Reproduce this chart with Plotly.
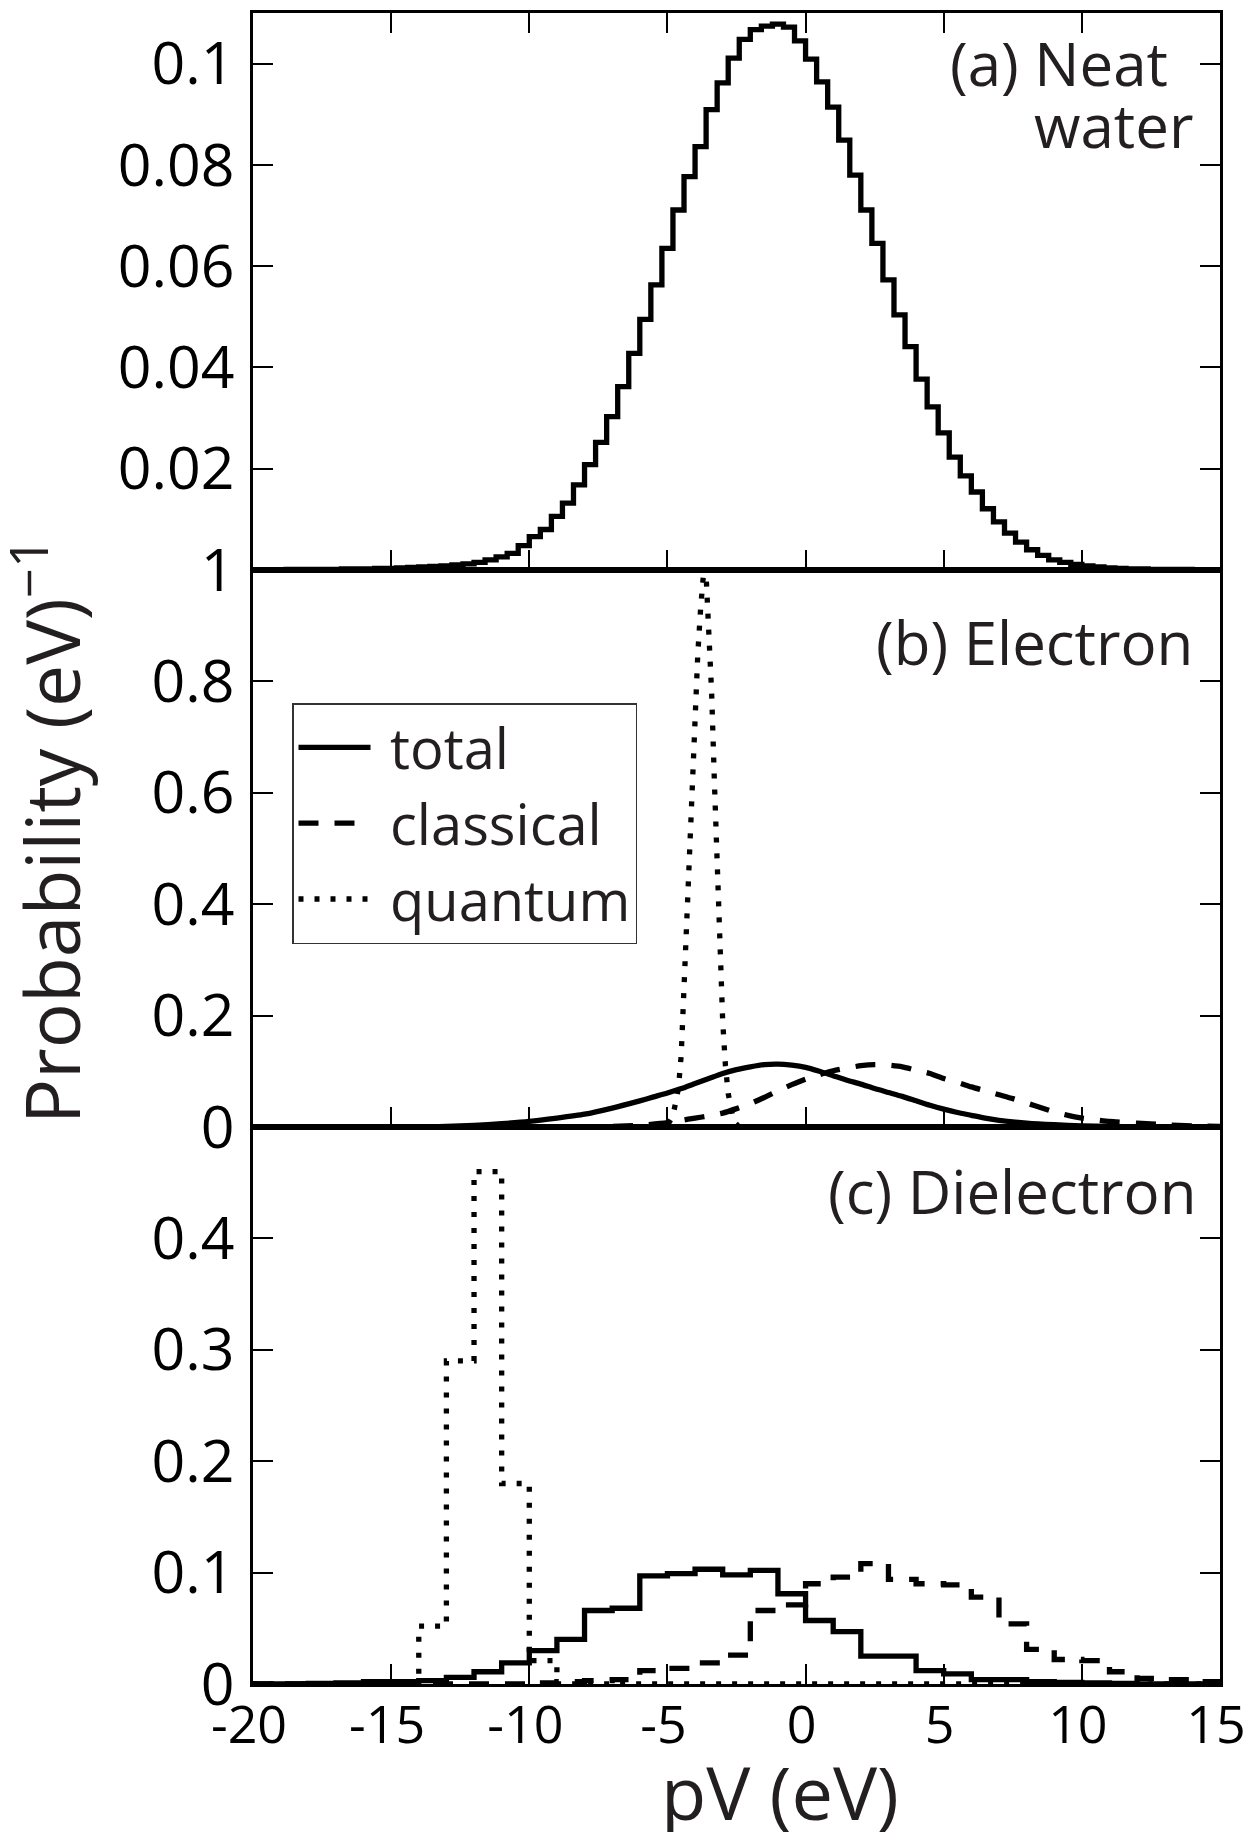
import numpy as np
import plotly.graph_objects as go

# ---------------- data ----------------
# Panel (a): neat water, histogram with 0.4 eV bins starting at -20 eV
bin_start_a = -20.0
bin_width_a = 0.4
neat_water = [
    0.0000, 0.0000, 0.0000, 0.0001, 0.0001, 0.0001, 0.0001, 0.0001, 0.0002, 0.0002,
    0.0002, 0.0003, 0.0003, 0.0004, 0.0005, 0.0006, 0.0007, 0.0008, 0.0010, 0.0012,
    0.0015, 0.0020, 0.0026, 0.0033, 0.0048, 0.0066, 0.0080, 0.0106, 0.0132, 0.0168,
    0.0208, 0.0252, 0.0303, 0.0362, 0.0428, 0.0495, 0.0563, 0.0635, 0.0711, 0.0777,
    0.0836, 0.0909, 0.0962, 0.1011, 0.1048, 0.1067, 0.1074, 0.1078, 0.1072, 0.1045,
    0.1009, 0.0964, 0.0914, 0.0849, 0.0780, 0.0711, 0.0645, 0.0573, 0.0504, 0.0441,
    0.0377, 0.0322, 0.0271, 0.0223, 0.0186, 0.0154, 0.0121, 0.0095, 0.0073, 0.0055,
    0.0040, 0.0029, 0.0020, 0.0015, 0.0011, 0.0008, 0.0006, 0.0004, 0.0003, 0.0002,
    0.0002, 0.0001, 0.0001, 0.0001, 0.0001, 0.0000, 0.0000, 0.0000,
]

# Panel (b): electron
pv_total_b = [-20, -14, -13, -12, -11, -10, -9, -8, -7, -6, -5.5, -5, -4.5, -4, -3.5, -3,
              -2.5, -2, -1.5, -1, -0.5, 0, 0.5, 1, 1.5, 2, 2.5, 3, 3.5, 4, 4.5, 5, 5.5,
              6, 6.5, 7, 8, 9, 10, 11, 12, 13, 15]
total_b = [0.0, 0.0, 0.001, 0.003, 0.006, 0.010, 0.016, 0.023, 0.034, 0.047, 0.054, 0.061,
           0.069, 0.078, 0.087, 0.096, 0.103, 0.108, 0.112, 0.113, 0.111, 0.107, 0.100,
           0.092, 0.084, 0.077, 0.069, 0.062, 0.055, 0.047, 0.039, 0.032, 0.026, 0.021,
           0.016, 0.012, 0.007, 0.004, 0.002, 0.001, 0.0005, 0.0, 0.0]

pv_classical_b = [-20, -8, -7, -6, -5, -4.5, -4, -3.5, -3, -2.5, -2, -1.5, -1, -0.5, 0, 0.5,
                  1, 1.5, 2, 2.5, 3, 3.5, 4, 4.5, 5, 5.5, 6, 6.5, 7, 7.5, 8, 8.5, 9, 9.5,
                  10, 10.5, 11, 12, 13, 14, 15]
classical_b = [0.0, 0.0, 0.001, 0.003, 0.008, 0.012, 0.016, 0.020, 0.025, 0.033, 0.042,
               0.053, 0.065, 0.076, 0.086, 0.094, 0.101, 0.106, 0.110, 0.112, 0.111, 0.108,
               0.102, 0.096, 0.087, 0.080, 0.072, 0.065, 0.058, 0.051, 0.043, 0.035, 0.027,
               0.021, 0.016, 0.013, 0.010, 0.007, 0.004, 0.002, 0.001]

pv_quantum_b = [-20, -5.2, -5.0, -4.8, -4.6, -4.5, -4.4, -4.3, -4.2, -4.1, -4.0, -3.9, -3.8,
                -3.7, -3.6, -3.5, -3.4, -3.3, -3.2, -3.1, -3.0, -2.9, -2.8, -2.6, -2.4, 15]
quantum_b = [0.0, 0.0, 0.003, 0.02, 0.07, 0.13, 0.25, 0.37, 0.51, 0.63, 0.75, 0.85, 0.93,
             0.99, 0.99, 0.90, 0.78, 0.62, 0.47, 0.33, 0.19, 0.11, 0.06, 0.01, 0.0, 0.0]

# Panel (c): dielectron, histogram with 1 eV bins starting at -20 eV
bin_start_c = -20.0
bin_width_c = 1.0
total_c = [0.0, 0.0, 0.0005, 0.001, 0.002, 0.002, 0.003, 0.006, 0.011, 0.019,
           0.030, 0.040, 0.066, 0.068, 0.097, 0.099, 0.103, 0.098, 0.102, 0.081,
           0.057, 0.047, 0.025, 0.025, 0.012, 0.009, 0.004, 0.004, 0.002, 0.0015,
           0.001, 0.0005, 0.0, 0.0, 0.0]
classical_c = [0.0, 0.0, 0.0, 0.0, 0.0, 0.0, 0.0, 0.0, 0.0, 0.0,
               0.001, 0.002, 0.003, 0.004, 0.012, 0.014, 0.019, 0.026, 0.066, 0.071,
               0.090, 0.096, 0.108, 0.094, 0.090, 0.089, 0.078, 0.054, 0.031, 0.022,
               0.021, 0.011, 0.005, 0.004, 0.002]
quantum_c = [0.0, 0.0, 0.0, 0.0, 0.0, 0.002, 0.052, 0.290, 0.460, 0.180,
             0.021, 0.0, 0.0, 0.0, 0.0, 0.0, 0.0, 0.0, 0.0, 0.0,
             0.0, 0.0, 0.0, 0.0, 0.0, 0.0, 0.0, 0.0, 0.0, 0.0,
             0.0, 0.0, 0.0, 0.0, 0.0]

x_ticks = [-20, -15, -10, -5, 0, 5, 10, 15]
y_ticks_a = [0.02, 0.04, 0.06, 0.08, 0.1]
y_ticks_b = [0, 0.2, 0.4, 0.6, 0.8, 1]
y_ticks_c = [0, 0.1, 0.2, 0.3, 0.4]


def fmt(v):
    return ("%g" % v)


def steps(start, width, vals):
    edges = start + width * np.arange(len(vals) + 1)
    return edges, list(vals) + [vals[-1]]


# ---------------- layout geometry ----------------
# the page body adds an 8 px margin on every side; target positions are in page pixels
OFF = 8
W, H = 1251 - OFF, 1840 - 2 * OFF
PLOT_L, PLOT_R, PLOT_T, PLOT_B = 253, 1220, 13, 1684
ML = PLOT_L - OFF
MT = PLOT_T - OFF
MR = W - (PLOT_R - OFF)
MB = H - (PLOT_B - OFF)
PW = PLOT_R - PLOT_L
PH = PLOT_B - PLOT_T


def px_x(px):
    return (px - PLOT_L) / PW


def px_y(py):
    return (PLOT_B - py) / PH


FONT = "Open Sans, Noto Sans, Liberation Sans, sans-serif"
TXT = "#231f20"
LW = 5.3
DASH = "20px,16px"
DOT = "5px,11px"

fig = go.Figure()

# panel (a)
xa, ya = steps(bin_start_a, bin_width_a, neat_water)
fig.add_trace(go.Scatter(x=xa, y=ya, mode="lines", line=dict(color="black", width=LW, shape="hv"),
                         xaxis="x3", yaxis="y3", showlegend=False))

# panel (b)
fig.add_trace(go.Scatter(x=pv_total_b, y=total_b, mode="lines", name=" total",
                         line=dict(color="black", width=LW, shape="spline", smoothing=0.6),
                         xaxis="x2", yaxis="y2"))
fig.add_trace(go.Scatter(x=pv_classical_b, y=classical_b, mode="lines", name=" classical",
                         line=dict(color="black", width=LW, dash=DASH, shape="spline", smoothing=0.6),
                         xaxis="x2", yaxis="y2"))
fig.add_trace(go.Scatter(x=pv_quantum_b, y=quantum_b, mode="lines", name=" quantum",
                         line=dict(color="black", width=LW, dash=DOT),
                         xaxis="x2", yaxis="y2"))

# panel (c)
for vals, dash in ((quantum_c, DOT), (classical_c, DASH), (total_c, "solid")):
    xc, yc = steps(bin_start_c, bin_width_c, vals)
    fig.add_trace(go.Scatter(x=xc, y=yc, mode="lines",
                             line=dict(color="black", width=LW, dash=dash, shape="hv"),
                             xaxis="x", yaxis="y", showlegend=False))

# empty trace so that the tick-only overlay axis of panel (c) is drawn
fig.add_trace(go.Scatter(x=[], y=[], mode="lines", xaxis="x4", yaxis="y",
                         showlegend=False, hoverinfo="skip"))

axis_common = dict(showline=True, linecolor="black", linewidth=2.5, ticks="inside",
                   ticklen=20, tickwidth=2, tickcolor="black", showgrid=False, zeroline=False,
                   automargin=False, ticklabeloverflow="allow")

xcommon = dict(axis_common, range=[-20, 15], tickvals=x_ticks, ticktext=[fmt(v) for v in x_ticks])
ycommon = dict(axis_common, ticklabelstandoff=4, tickfont=dict(family=FONT, size=59, color="black"))

fig.update_layout(
    width=W, height=H, autosize=False,
    margin=dict(l=ML, r=MR, t=MT, b=MB, autoexpand=False),
    paper_bgcolor="white", plot_bgcolor="white",
    # panel (c) bottom axis: line + labels (ticks drawn by the overlay axis x4)
    xaxis=dict(xcommon, anchor="y", domain=[0, 1], mirror=True, showticklabels=True,
               ticks="", ticklabelstandoff=-6, ticklabelshift=-4,
               tickfont=dict(family=FONT, size=52, color="black")),
    xaxis4=dict(xcommon, anchor="y", overlaying="x", matches="x", side="bottom",
                showline=False, showticklabels=False),
    xaxis2=dict(xcommon, anchor="y2", domain=[0, 1], mirror=True, showticklabels=False, matches="x"),
    xaxis3=dict(xcommon, anchor="y3", domain=[0, 1], mirror="ticks", showticklabels=False, matches="x"),
    yaxis=dict(ycommon, anchor="x", domain=[0, 1 / 3], range=[0, 0.5], mirror="ticks",
               tickvals=y_ticks_c, ticktext=[fmt(v) for v in y_ticks_c]),
    yaxis2=dict(ycommon, anchor="x2", domain=[1 / 3, 2 / 3], range=[0, 1], mirror="ticks",
                tickvals=y_ticks_b, ticktext=[fmt(v) for v in y_ticks_b]),
    yaxis3=dict(ycommon, anchor="x3", domain=[2 / 3, 1], range=[0, 0.11], mirror="ticks",
                tickvals=y_ticks_a, ticktext=[fmt(v) for v in y_ticks_a]),
    legend=dict(x=px_x(292), y=px_y(703), xanchor="left", yanchor="top",
                font=dict(family=FONT, size=56, color=TXT), bgcolor="white",
                bordercolor="#333333", borderwidth=1.5, itemwidth=72, tracegroupgap=0),
    showlegend=True,
)

ann_font = dict(family=FONT, size=60, color=TXT)
annotations = [
    dict(text="(a) Neat", x=px_x(1170), y=px_y(63), xanchor="right", yanchor="middle"),
    dict(text="water", x=px_x(1195), y=px_y(125), xanchor="right", yanchor="middle"),
    dict(text="(b) Electron", x=px_x(1195), y=px_y(642), xanchor="right", yanchor="middle"),
    dict(text="(c) Dielectron", x=px_x(1198), y=px_y(1191), xanchor="right", yanchor="middle"),
]
for a in annotations:
    fig.add_annotation(xref="paper", yref="paper", showarrow=False, font=ann_font, **a)

fig.add_annotation(xref="paper", yref="paper", showarrow=False, text="pV (eV)",
                   x=px_x(780), y=px_y(1791), xanchor="center", yanchor="middle",
                   font=dict(family=FONT, size=74, color=TXT))
fig.add_annotation(xref="paper", yref="paper", showarrow=False,
                   text="Probability (eV)<sup>\u22121</sup>", textangle=-90,
                   x=px_x(47), y=px_y(831), xanchor="center", yanchor="middle",
                   font=dict(family=FONT, size=75, color=TXT))

fig.write_html("out.html")
